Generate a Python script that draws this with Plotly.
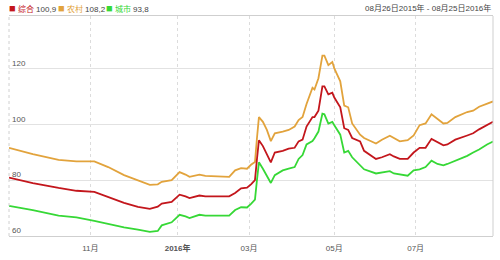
import plotly.graph_objects as go

dates = ["2015-08-26","2015-09-15","2015-10-09","2015-10-22","2015-11-04","2015-11-13","2015-11-25",
         "2015-12-04","2015-12-14","2015-12-18","2015-12-22","2015-12-29","2016-01-05","2016-01-08",
         "2016-01-12","2016-01-19","2016-01-22","2016-02-16","2016-02-19","2016-02-24","2016-02-29",
         "2016-03-02","2016-03-04","2016-03-07","2016-03-08","2016-03-10","2016-03-14","2016-03-16",
         "2016-03-18","2016-03-24","2016-03-29","2016-04-01","2016-04-06","2016-04-08","2016-04-12",
         "2016-04-15","2016-04-18","2016-04-20","2016-04-22","2016-04-25","2016-04-27","2016-04-29",
         "2016-05-03","2016-05-06","2016-05-10","2016-05-12","2016-05-16","2016-05-20","2016-05-24",
         "2016-06-01","2016-06-06","2016-06-14","2016-06-16","2016-06-21","2016-06-27","2016-06-30",
         "2016-07-05","2016-07-08","2016-07-13","2016-07-18","2016-07-21","2016-07-25","2016-07-29",
         "2016-08-08","2016-08-11","2016-08-16","2016-08-22","2016-08-25"]

orange_vals = [91.6, 89.3, 87.3, 86.7, 86.7, 84.7, 81.8, 80.0, 78.3, 78.5, 79.4, 80.0, 82.9, 82.0,
               81.2, 82.0, 81.5, 81.2, 83.5, 84.3, 84.1, 85.5, 86.5, 95.0, 102.6, 100.9, 98.0, 94.0,
               96.8, 97.4, 98.0, 99.2, 101.5, 102.6, 107.3, 113.1, 112.5, 116.5, 124.6, 124.6, 121.2,
               122.3, 120.0, 115.4, 106.7, 106.1, 100.3, 96.3, 95.1, 93.1, 94.5, 95.9, 95.1, 93.9,
               94.3, 96.0, 99.7, 100.3, 103.6, 102.1, 100.3, 100.5, 102.6, 104.4, 104.9, 106.3,
               107.5, 108.2]

red_vals = [80.9, 78.9, 77.2, 76.2, 75.8, 73.9, 71.9, 70.4, 69.7, 70.5, 71.6, 72.2, 74.8, 74.2,
            73.6, 74.5, 74.2, 74.2, 75.4, 77.1, 77.3, 78.5, 80.0, 87.5, 94.3, 92.2, 89.3, 86.4,
            89.9, 90.5, 91.3, 91.6, 93.9, 94.5, 99.2, 102.6, 102.6, 104.9, 113.6, 113.6, 110.7,
            111.3, 109.6, 106.1, 98.6, 98.0, 95.1, 93.9, 90.5, 87.6, 88.2, 89.3, 88.5, 87.6,
            87.6, 89.9, 91.6, 91.6, 94.8, 93.6, 92.5, 92.8, 94.5, 96.0, 96.8, 98.2, 99.7, 100.9]

green_vals = [70.8, 69.3, 67.3, 66.7, 65.4, 64.3, 63.1, 62.3, 61.5, 61.8, 63.8, 64.9, 67.6, 67.0,
              66.4, 67.6, 67.3, 67.3, 69.3, 70.3, 70.2, 71.5, 73.0, 80.0, 86.4, 84.1, 81.8, 79.0,
              81.8, 83.5, 84.1, 84.7, 87.6, 89.0, 92.8, 94.0, 95.0, 97.4, 103.8, 103.6, 100.3,
              100.9, 99.7, 96.3, 89.9, 90.5, 88.2, 85.3, 83.9, 82.4, 82.8, 83.2, 82.4, 82.0,
              81.6, 83.5, 83.9, 84.7, 87.0, 85.8, 85.3, 85.8, 87.0, 88.7, 89.9, 91.0, 92.8, 93.8]

series_names = ["综合", "农村", "城市"]
series_last = ["100,9", "108,2", "93,8"]
series_colors = ["#C3161C", "#E2A33C", "#36D836"]

holidays = ["2015-09-03", "2015-09-04", "2015-10-01", "2015-10-02", "2015-10-05", "2015-10-06",
            "2015-10-07", "2016-01-01", "2016-02-08", "2016-02-09", "2016-02-10", "2016-02-11",
            "2016-02-12", "2016-04-04", "2016-05-02", "2016-06-09", "2016-06-10"]

tick_dates = ["2015-11-02", "2016-01-04", "2016-03-01", "2016-05-03", "2016-07-01"]
tick_text = ["11月", "<b>2016年</b>", "03月", "05月", "07月"]
y_ticks = [60, 80, 100, 120]
date_range_text = "08月26日2015年 - 08月25日2016年"

font_family = "Liberation Sans, Noto Sans CJK SC, sans-serif"

fig = go.Figure()
# draw in order orange, red, green
for idx, vals in [(1, orange_vals), (0, red_vals), (2, green_vals)]:
    fig.add_trace(go.Scatter(x=dates, y=vals, mode="lines", name=series_names[idx],
                             line=dict(color=series_colors[idx], width=1.8),
                             showlegend=False, hoverinfo="skip"))

fig.update_layout(
    width=500, height=260,
    margin=dict(l=9, r=7, t=16, b=18),
    paper_bgcolor="white", plot_bgcolor="white",
    font=dict(family=font_family, size=8, color="#555555"),
    xaxis=dict(
        type="date",
        range=["2015-08-26", "2016-08-25"],
        rangebreaks=[dict(bounds=["sat", "mon"]), dict(values=holidays)],
        tickvals=tick_dates, ticktext=tick_text,
        showgrid=True, gridcolor="#dcdcdc", griddash="dot", gridwidth=1,
        showline=True, linecolor="#cfcfcf", linewidth=1, mirror=True,
        ticks="", ticklabelstandoff=4, tickfont=dict(size=8, color="#555555"),
        zeroline=False,
    ),
    yaxis=dict(
        range=[60, 138.8],
        tickvals=y_ticks,
        showgrid=True, gridcolor="#e2e2e2", gridwidth=1,
        showline=False, zeroline=False,
        ticks="", ticklabelposition="inside top",
        tickfont=dict(size=8, color="#555555"),
    ),
)

# left dashed border and right solid border
fig.add_shape(type="line", xref="paper", yref="paper", x0=0, x1=0, y0=0, y1=1,
              line=dict(color="#d0d0d0", width=1, dash="dot"))
fig.add_shape(type="line", xref="paper", yref="paper", x0=1, x1=1, y0=0, y1=1,
              line=dict(color="#cfcfcf", width=1))

# legend-like header
plot_w = 500 - 9 - 7
legend_px = [7, 56, 104]
for i in range(3):
    txt = (f"<span style='color:{series_colors[i]};font-size:11px'>■</span> "
           f"<span style='color:{series_colors[i]}'>{series_names[i]}</span> {series_last[i]}")
    fig.add_annotation(xref="paper", yref="paper", x=(legend_px[i] - 9) / plot_w, y=1.037,
                       xanchor="left", yanchor="middle", showarrow=False, text=txt,
                       font=dict(size=8, color="#444444", family=font_family))

fig.add_annotation(xref="paper", yref="paper", x=1, y=1.037, xanchor="right", yanchor="middle",
                   showarrow=False, text=date_range_text,
                   font=dict(size=8, color="#444444", family=font_family))

fig.write_html("out.html")
